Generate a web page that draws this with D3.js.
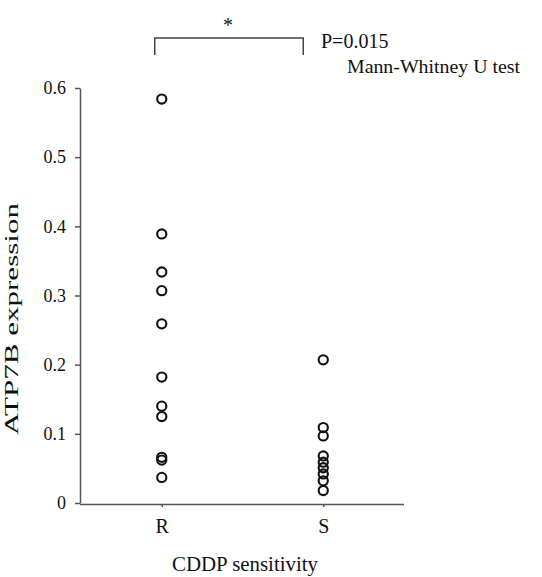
<!DOCTYPE html>
<html>
<head>
<meta charset="utf-8">
<script src="https://cdn.jsdelivr.net/npm/d3@7"></script>
<style>
  body { margin: 0; background: #fff; }
</style>
</head>
<body>
<div id="chart"></div>
<script>
// values
var groups = ["R", "S"];
var rValues = [0.584, 0.389, 0.334, 0.307, 0.259, 0.182, 0.140, 0.125, 0.066, 0.062, 0.037];
var sValues = [0.207, 0.109, 0.097, 0.068, 0.059, 0.051, 0.042, 0.032, 0.018];
var yTicks = [0, 0.1, 0.2, 0.3, 0.4, 0.5, 0.6];

var serif = "'Liberation Serif', 'Times New Roman', Times, serif";
var w = 542;
var h = 577;

var svg = d3.select("#chart").append("svg")
  .attr("width", w)
  .attr("height", h)
  .attr("font-family", serif);

var xScale = d3.scalePoint()
  .domain(groups)
  .range([81, 404])
  .padding(0.5);

var yScale = d3.scaleLinear()
  .domain([0, 0.6])
  .range([503, 88]);

var points = [];
rValues.forEach(function(v){ points.push({group: "R", value: v}); });
sValues.forEach(function(v){ points.push({group: "S", value: v}); });

// y axis
var yAxis = d3.axisLeft(yScale)
  .tickValues(yTicks)
  .tickSize(5)
  .tickSizeOuter(0)
  .tickPadding(9)
  .tickFormat(function(d){ return d === 0 ? "0" : d3.format(".1f")(d); });

var gy = svg.append("g")
  .attr("transform", "translate(80,0)")
  .call(yAxis)
  .attr("font-family", serif);
gy.selectAll("path, line").attr("stroke", "#555").attr("stroke-width", 1.5);
gy.selectAll("text")
  .style("font-family", serif)
  .style("font-size", "18px")
  .attr("fill", "#111");

// x axis
var xAxis = d3.axisBottom(xScale)
  .tickSize(3)
  .tickSizeOuter(0)
  .tickPadding(12);

var gx = svg.append("g")
  .attr("transform", "translate(0,504)")
  .call(xAxis)
  .attr("font-family", serif);
gx.select("path").attr("d", "M80,0.5H404");
gx.selectAll("path, line").attr("stroke", "#555").attr("stroke-width", 1.5);
gx.selectAll("text")
  .style("font-family", serif)
  .style("font-size", "20px")
  .attr("fill", "#111");

// points
svg.selectAll("circle")
  .data(points)
  .enter()
  .append("circle")
  .attr("cx", function(d){ return xScale(d.group); })
  .attr("cy", function(d){ return yScale(d.value); })
  .attr("r", 4.6)
  .attr("fill", "none")
  .attr("stroke", "#111")
  .attr("stroke-width", 2.1);

function label(x, y, size, str) {
  return svg.append("text")
    .attr("x", x)
    .attr("y", y)
    .attr("fill", "#111")
    .style("font-family", serif)
    .style("font-size", size + "px")
    .text(str);
}

// axis titles
label(0, 0, 19, "ATP7B expression")
  .attr("transform", "translate(18,319) rotate(-90)")
  .attr("text-anchor", "middle")
  .attr("textLength", 232)
  .attr("lengthAdjust", "spacingAndGlyphs");

label(245, 571, 20, "CDDP sensitivity")
  .attr("text-anchor", "middle")
  .attr("textLength", 146)
  .attr("lengthAdjust", "spacingAndGlyphs");

// significance bracket
var xr = xScale("R") - 7, xs = xScale("S") - 20;
svg.append("path")
  .attr("d", "M" + xr + ",55V38H" + xs + "V55")
  .attr("fill", "none")
  .attr("stroke", "#444")
  .attr("stroke-width", 1.5);

label(228, 32, 20, "*").attr("text-anchor", "middle");
label(321, 48, 20, "P=0.015");
label(347, 73, 19, "Mann-Whitney U test")
  .attr("textLength", 173)
  .attr("lengthAdjust", "spacingAndGlyphs");
</script>
</body>
</html>
